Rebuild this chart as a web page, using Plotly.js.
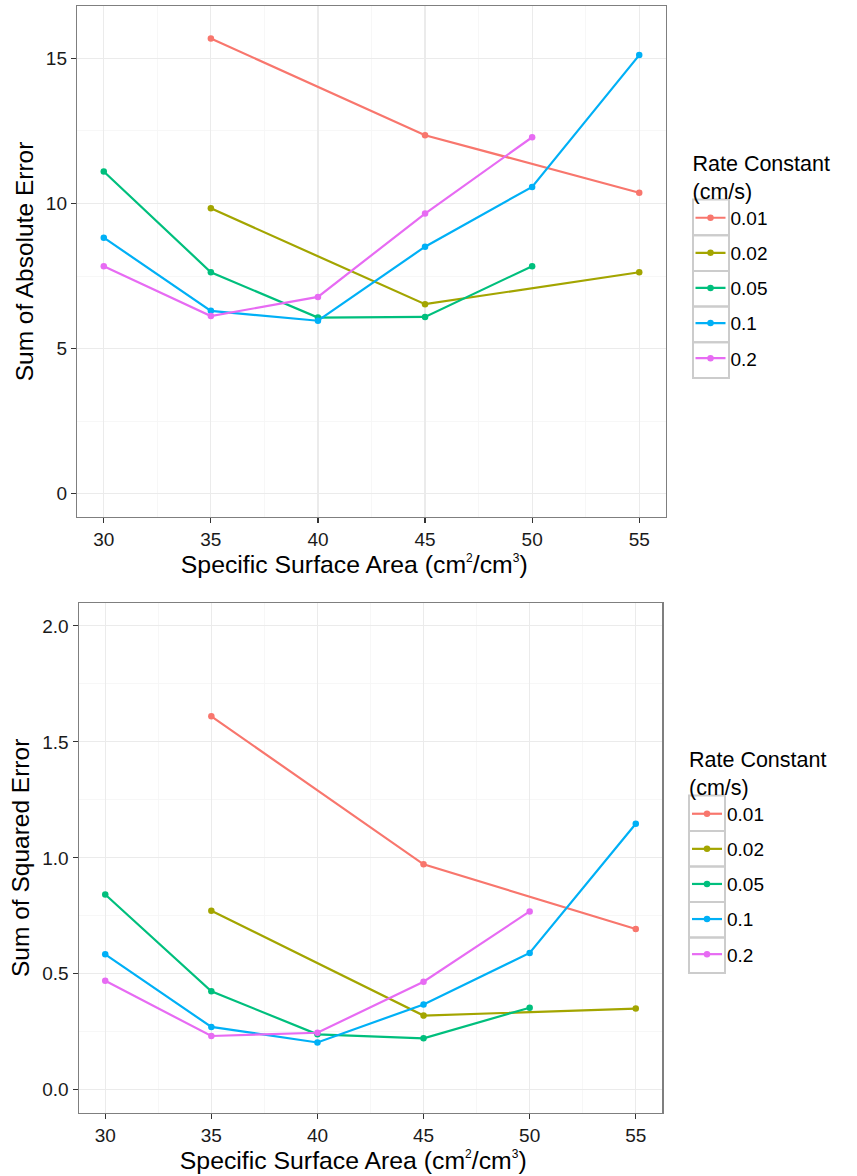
<!DOCTYPE html>
<html>
<head>
<meta charset="utf-8">
<script src="https://cdn.plot.ly/plotly-3.0.1.min.js"></script>
<style>html,body{margin:0;padding:0;background:#fff;}#chart{width:857px;height:1176px;}</style>
</head>
<body>
<div id="chart"></div>
<script>
// ---- data ----
const rateConstants = ["0.01", "0.02", "0.05", "0.1", "0.2"];
const colors = ["#F8766D", "#A3A500", "#00BF7D", "#00B0F6", "#E76BF3"];

// Sum of Absolute Error (top panel)
const absX_001 = [35, 45, 55];
const absY_001 = [15.68, 12.35, 10.37];
const absX_002 = [35, 45, 55];
const absY_002 = [9.83, 6.53, 7.63];
const absX_005 = [30, 35, 40, 45, 50];
const absY_005 = [11.10, 7.63, 6.07, 6.09, 7.84];
const absX_01 = [30, 35, 40, 45, 50, 55];
const absY_01 = [8.82, 6.30, 5.96, 8.51, 10.57, 15.11];
const absX_02 = [30, 35, 40, 45, 50];
const absY_02 = [7.84, 6.12, 6.78, 9.65, 12.28];

// Sum of Squared Error (bottom panel)
const sqX_001 = [35, 45, 55];
const sqY_001 = [1.610, 0.972, 0.693];
const sqX_002 = [35, 45, 55];
const sqY_002 = [0.772, 0.320, 0.350];
const sqX_005 = [30, 35, 40, 45, 50];
const sqY_005 = [0.842, 0.425, 0.239, 0.222, 0.354];
const sqX_01 = [30, 35, 40, 45, 50, 55];
const sqY_01 = [0.584, 0.271, 0.204, 0.368, 0.590, 1.147];
const sqX_02 = [30, 35, 40, 45, 50];
const sqY_02 = [0.470, 0.232, 0.246, 0.466, 0.769];

const xTicks = [30, 35, 40, 45, 50, 55];
const absTicks = [0, 5, 10, 15];
const sqTicks = [0.0, 0.5, 1.0, 1.5, 2.0];
const sqTickText = ["0.0", "0.5", "1.0", "1.5", "2.0"];

const absXs = [absX_001, absX_002, absX_005, absX_01, absX_02];
const absYs = [absY_001, absY_002, absY_005, absY_01, absY_02];
const sqXs = [sqX_001, sqX_002, sqX_005, sqX_01, sqX_02];
const sqYs = [sqY_001, sqY_002, sqY_005, sqY_01, sqY_02];

// ---- layout helpers ----
const W = 857, H = 1176;
const FONT = "Arial, 'Liberation Sans', Helvetica, sans-serif";
const px = v => v / W;
const py = v => 1 - v / H;

const traces = [];
for (let i = 0; i < rateConstants.length; i++) {
  traces.push({
    x: absXs[i], y: absYs[i], xaxis: "x", yaxis: "y",
    type: "scatter", mode: "lines+markers", name: rateConstants[i],
    legend: "legend", legendgroup: "a" + i,
    line: {color: colors[i], width: 2.2},
    marker: {color: colors[i], size: 6.5}
  });
}
for (let i = 0; i < rateConstants.length; i++) {
  traces.push({
    x: sqXs[i], y: sqYs[i], xaxis: "x2", yaxis: "y2",
    type: "scatter", mode: "lines+markers", name: rateConstants[i],
    legend: "legend2", legendgroup: "b" + i,
    line: {color: colors[i], width: 2.2},
    marker: {color: colors[i], size: 6.5}
  });
}

const PAD = "\u00A0\u00A0\u00A0\u00A0\u00A0\u200B";
const SUP = d => "<sup><span style=\"font-size:12px\">" + d + "</span></sup>";
function xAxis(domain, anchor) {
  return {
    domain: domain, anchor: anchor, range: [28.75, 56.25],
    tickvals: xTicks, ticks: "outside", ticklen: 5, tickcolor: "#333333", tickwidth: 1.1,
    tickfont: {family: FONT, size: 19, color: "#1a1a1a"},
    showgrid: true, gridcolor: "#EBEBEB", gridwidth: 1.1,
    minor: {dtick: 5, tick0: 32.5, showgrid: true, gridcolor: "#F5F5F5", gridwidth: 0.8, ticks: ""},
    zeroline: false, showline: true, linecolor: "#7F7F7F", linewidth: 1.2, mirror: true,
    title: {text: "Specific Surface Area (cm" + SUP("2") + "/cm" + SUP("3") + ")" + PAD,
            font: {family: FONT, size: 24.8, color: "#000"}, standoff: 6},
    automargin: false
  };
}
function yAxis(domain, anchor, range, tickvals, ticktext, title) {
  const step = tickvals[1] - tickvals[0];
  return {
    domain: domain, anchor: anchor, range: range,
    tickvals: tickvals, ticktext: ticktext, ticks: "outside", ticklen: 5, tickcolor: "#333333", tickwidth: 1.1,
    tickfont: {family: FONT, size: 19, color: "#1a1a1a"},
    showgrid: true, gridcolor: "#EBEBEB", gridwidth: 1.1,
    minor: {dtick: step, tick0: tickvals[0] + step / 2, showgrid: true, gridcolor: "#F5F5F5", gridwidth: 0.8, ticks: ""},
    zeroline: false, showline: true, linecolor: "#7F7F7F", linewidth: 1.2, mirror: true,
    title: {text: title, font: {family: FONT, size: 24.5, color: "#000"}, standoff: 5},
    automargin: false
  };
}

// legend key boxes (ggplot-style key frames)
const shapes = [];
function keyBoxes(x0, x1, top, step) {
  for (let i = 0; i < rateConstants.length; i++) {
    shapes.push({type: "rect", xref: "paper", yref: "paper",
      x0: px(x0), x1: px(x1), y0: py(top + step * i), y1: py(top + step * (i + 1)),
      line: {color: "#CCCCCC", width: 2}, fillcolor: "rgba(0,0,0,0)", layer: "above"});
  }
}
keyBoxes(693, 729, 199.5, 35.7);
keyBoxes(689, 725, 795.5, 35.5);

const legendCommon = {
  bgcolor: "rgba(0,0,0,0)", borderwidth: 0,
  font: {family: FONT, size: 19, color: "#000"},
  traceorder: "grouped", tracegroupgap: 7.4, itemwidth: 30,
  xanchor: "left", yanchor: "top"
};

const layout = {
  width: W, height: H,
  margin: {l: 0, r: 0, t: 0, b: 0},
  paper_bgcolor: "#fff", plot_bgcolor: "#fff",
  showlegend: true,
  xaxis: xAxis([px(77), px(666)], "y"),
  yaxis: yAxis([py(517), py(6)], "x", [-0.8, 16.8], absTicks, absTicks.map(String), "Sum of Absolute Error"),
  xaxis2: xAxis([px(78.7), px(662.3)], "y2"),
  yaxis2: yAxis([py(1113), py(602.7)], "x2", [-0.1, 2.1], sqTicks, sqTickText, "Sum of Squared Error"),
  legend: Object.assign({}, legendCommon, {
    x: px(690.5), y: py(143),
    title: {text: "Rate Constant<br>(cm/s)", font: {family: FONT, size: 21.5, color: "#000"}}
  }),
  legend2: Object.assign({}, legendCommon, {
    x: px(687), y: py(739),
    title: {text: "Rate Constant<br>(cm/s)", font: {family: FONT, size: 21.5, color: "#000"}}
  }),
  shapes: shapes
};

Plotly.newPlot("chart", traces, layout, {staticPlot: true, displayModeBar: false});
</script>
</body>
</html>
